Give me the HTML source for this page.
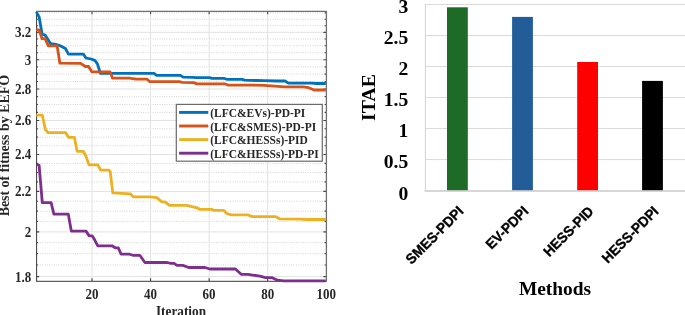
<!DOCTYPE html><html><head><meta charset="utf-8"><style>html,body{margin:0;padding:0;background:#fff;width:685px;height:315px;overflow:hidden}svg{display:block;will-change:transform}.s{font-family:"Liberation Serif",serif;font-weight:bold;fill:#000}.l{fill:#262626}.a{font-family:"Liberation Sans",sans-serif;font-weight:bold;fill:#000}</style></head><body>
<svg width="685" height="315" viewBox="0 0 685 315">
<line x1="37.4" y1="264.99" x2="326.2" y2="264.99" stroke="#d4d4d4" stroke-width="1" stroke-dasharray="1,1.35"/>
<line x1="37.4" y1="253.67" x2="326.2" y2="253.67" stroke="#d4d4d4" stroke-width="1" stroke-dasharray="1,1.35"/>
<line x1="37.4" y1="242.64" x2="326.2" y2="242.64" stroke="#d4d4d4" stroke-width="1" stroke-dasharray="1,1.35"/>
<line x1="37.4" y1="221.41" x2="326.2" y2="221.41" stroke="#d4d4d4" stroke-width="1" stroke-dasharray="1,1.35"/>
<line x1="37.4" y1="211.17" x2="326.2" y2="211.17" stroke="#d4d4d4" stroke-width="1" stroke-dasharray="1,1.35"/>
<line x1="37.4" y1="201.18" x2="326.2" y2="201.18" stroke="#d4d4d4" stroke-width="1" stroke-dasharray="1,1.35"/>
<line x1="37.4" y1="181.88" x2="326.2" y2="181.88" stroke="#d4d4d4" stroke-width="1" stroke-dasharray="1,1.35"/>
<line x1="37.4" y1="172.55" x2="326.2" y2="172.55" stroke="#d4d4d4" stroke-width="1" stroke-dasharray="1,1.35"/>
<line x1="37.4" y1="163.42" x2="326.2" y2="163.42" stroke="#d4d4d4" stroke-width="1" stroke-dasharray="1,1.35"/>
<line x1="37.4" y1="145.72" x2="326.2" y2="145.72" stroke="#d4d4d4" stroke-width="1" stroke-dasharray="1,1.35"/>
<line x1="37.4" y1="137.14" x2="326.2" y2="137.14" stroke="#d4d4d4" stroke-width="1" stroke-dasharray="1,1.35"/>
<line x1="37.4" y1="128.73" x2="326.2" y2="128.73" stroke="#d4d4d4" stroke-width="1" stroke-dasharray="1,1.35"/>
<line x1="37.4" y1="112.40" x2="326.2" y2="112.40" stroke="#d4d4d4" stroke-width="1" stroke-dasharray="1,1.35"/>
<line x1="37.4" y1="104.47" x2="326.2" y2="104.47" stroke="#d4d4d4" stroke-width="1" stroke-dasharray="1,1.35"/>
<line x1="37.4" y1="96.67" x2="326.2" y2="96.67" stroke="#d4d4d4" stroke-width="1" stroke-dasharray="1,1.35"/>
<line x1="37.4" y1="81.51" x2="326.2" y2="81.51" stroke="#d4d4d4" stroke-width="1" stroke-dasharray="1,1.35"/>
<line x1="37.4" y1="74.12" x2="326.2" y2="74.12" stroke="#d4d4d4" stroke-width="1" stroke-dasharray="1,1.35"/>
<line x1="37.4" y1="66.87" x2="326.2" y2="66.87" stroke="#d4d4d4" stroke-width="1" stroke-dasharray="1,1.35"/>
<line x1="37.4" y1="52.71" x2="326.2" y2="52.71" stroke="#d4d4d4" stroke-width="1" stroke-dasharray="1,1.35"/>
<line x1="37.4" y1="45.81" x2="326.2" y2="45.81" stroke="#d4d4d4" stroke-width="1" stroke-dasharray="1,1.35"/>
<line x1="37.4" y1="39.01" x2="326.2" y2="39.01" stroke="#d4d4d4" stroke-width="1" stroke-dasharray="1,1.35"/>
<line x1="37.4" y1="25.74" x2="326.2" y2="25.74" stroke="#d4d4d4" stroke-width="1" stroke-dasharray="1,1.35"/>
<line x1="37.4" y1="19.26" x2="326.2" y2="19.26" stroke="#d4d4d4" stroke-width="1" stroke-dasharray="1,1.35"/>
<line x1="37.4" y1="12.88" x2="326.2" y2="12.88" stroke="#d4d4d4" stroke-width="1" stroke-dasharray="1,1.35"/>
<line x1="36.4" y1="276.63" x2="326.2" y2="276.63" stroke="#e2e2e2" stroke-width="1"/>
<line x1="36.4" y1="231.89" x2="326.2" y2="231.89" stroke="#e2e2e2" stroke-width="1"/>
<line x1="36.4" y1="191.42" x2="326.2" y2="191.42" stroke="#e2e2e2" stroke-width="1"/>
<line x1="36.4" y1="154.48" x2="326.2" y2="154.48" stroke="#e2e2e2" stroke-width="1"/>
<line x1="36.4" y1="120.49" x2="326.2" y2="120.49" stroke="#e2e2e2" stroke-width="1"/>
<line x1="36.4" y1="89.02" x2="326.2" y2="89.02" stroke="#e2e2e2" stroke-width="1"/>
<line x1="36.4" y1="59.73" x2="326.2" y2="59.73" stroke="#e2e2e2" stroke-width="1"/>
<line x1="36.4" y1="32.33" x2="326.2" y2="32.33" stroke="#e2e2e2" stroke-width="1"/>
<line x1="92.02" y1="11.4" x2="92.02" y2="281.1" stroke="#e2e2e2" stroke-width="1"/>
<line x1="150.56" y1="11.4" x2="150.56" y2="281.1" stroke="#e2e2e2" stroke-width="1"/>
<line x1="209.11" y1="11.4" x2="209.11" y2="281.1" stroke="#e2e2e2" stroke-width="1"/>
<line x1="267.65" y1="11.4" x2="267.65" y2="281.1" stroke="#e2e2e2" stroke-width="1"/>
<path d="M36.4 276.63h2.8M326.2 276.63h-2.8M36.4 264.99h1.5M326.2 264.99h-1.5M36.4 253.67h1.5M326.2 253.67h-1.5M36.4 242.64h1.5M326.2 242.64h-1.5M36.4 231.89h2.8M326.2 231.89h-2.8M36.4 221.41h1.5M326.2 221.41h-1.5M36.4 211.17h1.5M326.2 211.17h-1.5M36.4 201.18h1.5M326.2 201.18h-1.5M36.4 191.42h2.8M326.2 191.42h-2.8M36.4 181.88h1.5M326.2 181.88h-1.5M36.4 172.55h1.5M326.2 172.55h-1.5M36.4 163.42h1.5M326.2 163.42h-1.5M36.4 154.48h2.8M326.2 154.48h-2.8M36.4 145.72h1.5M326.2 145.72h-1.5M36.4 137.14h1.5M326.2 137.14h-1.5M36.4 128.73h1.5M326.2 128.73h-1.5M36.4 120.49h2.8M326.2 120.49h-2.8M36.4 112.40h1.5M326.2 112.40h-1.5M36.4 104.47h1.5M326.2 104.47h-1.5M36.4 96.67h1.5M326.2 96.67h-1.5M36.4 89.02h2.8M326.2 89.02h-2.8M36.4 81.51h1.5M326.2 81.51h-1.5M36.4 74.12h1.5M326.2 74.12h-1.5M36.4 66.87h1.5M326.2 66.87h-1.5M36.4 59.73h2.8M326.2 59.73h-2.8M36.4 52.71h1.5M326.2 52.71h-1.5M36.4 45.81h1.5M326.2 45.81h-1.5M36.4 39.01h1.5M326.2 39.01h-1.5M36.4 32.33h2.8M326.2 32.33h-2.8M36.4 25.74h1.5M326.2 25.74h-1.5M36.4 19.26h1.5M326.2 19.26h-1.5M36.4 12.88h1.5M326.2 12.88h-1.5M92.02 281.1v-2.8M92.02 11.4v2.8M150.56 281.1v-2.8M150.56 11.4v2.8M209.11 281.1v-2.8M209.11 11.4v2.8M267.65 281.1v-2.8M267.65 11.4v2.8" stroke="#444" stroke-width="1.1" fill="none"/>
<path d="M36.6 281.3V11.3" stroke="#3a3a3a" stroke-width="1" fill="none"/>
<path d="M36.1 281.3H326.4" stroke="#3a3a3a" stroke-width="1" fill="none"/>
<path d="M36.1 11.3H327" stroke="#707070" stroke-width="1.3" fill="none"/>
<path d="M326.4 11.3V281.8" stroke="#707070" stroke-width="1.3" fill="none"/>
<polyline points="36.3,11.8 39.2,17.2 42.1,34.2 45.1,35.1 50.5,43.6 56.5,44.5 61.6,46.4 65.4,48.5 68.5,54.1 83.3,54.1 86.0,58.0 91.0,59.0 94.8,60.4 97.3,63.6 100.4,73.3 154.0,73.4 156.6,75.3 180.3,75.3 183.2,77.2 193.6,77.4 195.5,77.7 209.5,77.6 212.0,78.3 223.8,78.3 226.7,79.3 241.9,79.3 244.8,80.2 256.0,80.5 264.0,80.7 276.9,81.0 285.0,81.0 288.4,83.1 311.9,83.1 316.3,83.5 325.8,83.5" fill="none" stroke="#0072BD" stroke-width="2.8" stroke-linejoin="round" stroke-linecap="butt"/>
<polyline points="36.3,29.6 39.2,30.2 42.1,38.7 45.1,38.7 48.3,45.8 57.1,45.8 59.9,63.2 80.6,63.3 85.4,66.5 88.6,66.5 91.8,71.8 110.0,71.9 112.6,78.1 129.5,78.2 132.5,78.6 135.5,79.0 138.0,79.2 147.1,79.2 149.8,81.7 179.3,81.7 182.1,82.4 193.6,82.6 196.9,83.9 224.8,83.8 228.3,85.2 253.3,85.2 264.0,85.3 284.6,86.8 303.2,86.8 308.7,87.7 314.1,90.0 325.8,90.0" fill="none" stroke="#D95319" stroke-width="2.8" stroke-linejoin="round" stroke-linecap="butt"/>
<polyline points="36.3,115.2 42.3,115.2 45.4,129.6 48.0,132.7 65.7,132.7 68.5,137.3 74.4,137.4 77.1,151.3 83.3,151.3 85.9,156.0 89.0,164.9 97.8,164.9 100.6,170.2 109.0,170.2 110.2,171.4 112.8,192.9 130.3,193.8 133.3,196.9 150.4,196.9 156.8,197.6 161.9,201.8 165.0,201.8 169.5,205.4 186.7,205.4 197.1,207.8 200.0,209.4 211.4,209.4 214.3,210.4 223.8,210.4 226.7,213.5 231.4,214.8 247.5,214.8 252.3,216.6 275.9,216.6 279.4,218.8 300.2,219.2 307.1,219.5 325.8,219.5" fill="none" stroke="#EDB120" stroke-width="2.8" stroke-linejoin="round" stroke-linecap="butt"/>
<polyline points="36.3,164.1 39.1,165.2 42.3,202.6 51.1,202.6 53.9,214.2 68.3,214.2 71.3,231.0 86.0,231.1 89.2,235.9 92.3,235.9 94.9,240.3 97.8,245.8 112.0,245.8 115.2,247.8 118.3,247.9 121.1,254.2 129.6,254.2 132.8,255.3 139.8,255.3 144.9,262.5 167.1,262.5 170.9,263.4 174.1,263.4 177.0,265.4 182.8,265.4 188.7,267.5 205.0,267.5 209.7,269.0 235.4,269.0 241.2,274.3 248.0,274.4 259.9,276.1 265.5,277.6 272.3,277.7 277.3,280.2 283.5,280.8 325.8,280.8" fill="none" stroke="#7E2F8E" stroke-width="2.8" stroke-linejoin="round" stroke-linecap="butt"/>
<text class="s l" transform="translate(31.2,281.63) scale(1,1.1)" font-size="13" text-anchor="end">1.8</text>
<text class="s l" transform="translate(31.2,236.89) scale(1,1.1)" font-size="13" text-anchor="end">2</text>
<text class="s l" transform="translate(31.2,196.42) scale(1,1.1)" font-size="13" text-anchor="end">2.2</text>
<text class="s l" transform="translate(31.2,159.48) scale(1,1.1)" font-size="13" text-anchor="end">2.4</text>
<text class="s l" transform="translate(31.2,125.49) scale(1,1.1)" font-size="13" text-anchor="end">2.6</text>
<text class="s l" transform="translate(31.2,94.02) scale(1,1.1)" font-size="13" text-anchor="end">2.8</text>
<text class="s l" transform="translate(31.2,64.73) scale(1,1.1)" font-size="13" text-anchor="end">3</text>
<text class="s l" transform="translate(31.2,37.33) scale(1,1.1)" font-size="13" text-anchor="end">3.2</text>
<text class="s l" transform="translate(92.02,298.6) scale(1,1.1)" font-size="13" text-anchor="middle">20</text>
<text class="s l" transform="translate(150.56,298.6) scale(1,1.1)" font-size="13" text-anchor="middle">40</text>
<text class="s l" transform="translate(209.11,298.6) scale(1,1.1)" font-size="13" text-anchor="middle">60</text>
<text class="s l" transform="translate(267.65,298.6) scale(1,1.1)" font-size="13" text-anchor="middle">80</text>
<text class="s l" transform="translate(326.20,298.6) scale(1,1.1)" font-size="13" text-anchor="middle">100</text>
<text class="s l" transform="translate(181,316.3) scale(1,1.1)" font-size="13.3" text-anchor="middle">Iteration</text>
<text class="s l" transform="translate(9.1,145.7) scale(1.1,1.07) rotate(-90)" font-size="13" text-anchor="middle">Best of fitness by EEFO</text>
<rect x="176.3" y="104.4" width="146" height="56.8" fill="#fff" stroke="#6a6a6a" stroke-width="1.2"/>
<line x1="179.1" y1="112.4" x2="208.3" y2="112.4" stroke="#0072BD" stroke-width="2.9"/>
<text class="s l" transform="translate(210.2,117.2) scale(1,1.1)" font-size="11.5">(LFC&amp;EVs)-PD-PI</text>
<line x1="179.1" y1="126.0" x2="208.3" y2="126.0" stroke="#D95319" stroke-width="2.9"/>
<text class="s l" transform="translate(210.2,130.8) scale(1,1.1)" font-size="11.5">(LFC&amp;SMES)-PD-PI</text>
<line x1="179.1" y1="139.6" x2="208.3" y2="139.6" stroke="#EDB120" stroke-width="2.9"/>
<text class="s l" transform="translate(210.2,144.4) scale(1,1.1)" font-size="11.5">(LFC&amp;HESSs)-PID</text>
<line x1="179.1" y1="153.2" x2="208.3" y2="153.2" stroke="#7E2F8E" stroke-width="2.9"/>
<text class="s l" transform="translate(210.2,158.0) scale(1,1.1)" font-size="11.5">(LFC&amp;HESSs)-PD-PI</text>
<line x1="425.0" y1="159.58" x2="685" y2="159.58" stroke="#d9d9d9" stroke-width="1"/>
<line x1="425.0" y1="128.57" x2="685" y2="128.57" stroke="#d9d9d9" stroke-width="1"/>
<line x1="425.0" y1="97.55" x2="685" y2="97.55" stroke="#d9d9d9" stroke-width="1"/>
<line x1="425.0" y1="66.54" x2="685" y2="66.54" stroke="#d9d9d9" stroke-width="1"/>
<line x1="425.0" y1="35.53" x2="685" y2="35.53" stroke="#d9d9d9" stroke-width="1"/>
<line x1="425.0" y1="4.51" x2="685" y2="4.51" stroke="#d9d9d9" stroke-width="1"/>
<line x1="425.4" y1="4.01" x2="425.4" y2="190.60" stroke="#d2d2d2" stroke-width="1"/>
<rect x="447.0" y="7.3" width="20.8" height="183.3" fill="#1D6B26"/>
<rect x="512.1" y="16.9" width="20.8" height="173.7" fill="#225D9A"/>
<rect x="577.2" y="62.0" width="20.8" height="128.6" fill="#FF0000"/>
<rect x="642.1" y="80.9" width="20.8" height="109.7" fill="#000000"/>
<line x1="424.5" y1="190.90" x2="685" y2="190.90" stroke="#c9c9c9" stroke-width="1.5"/>
<text class="s" x="408.2" y="199.50" font-size="19.6" text-anchor="end">0</text>
<text class="s" x="408.2" y="168.48" font-size="19.6" text-anchor="end">0.5</text>
<text class="s" x="408.2" y="137.47" font-size="19.6" text-anchor="end">1</text>
<text class="s" x="408.2" y="106.45" font-size="19.6" text-anchor="end">1.5</text>
<text class="s" x="408.2" y="75.44" font-size="19.6" text-anchor="end">2</text>
<text class="s" x="408.2" y="44.43" font-size="19.6" text-anchor="end">2.5</text>
<text class="s" x="408.2" y="13.41" font-size="19.6" text-anchor="end">3</text>
<text class="a" transform="translate(464.4,212.2) rotate(-45) scale(0.95,1)" font-size="14.3" stroke="#000" stroke-width="0.35" text-anchor="end">SMES-PDPI</text>
<text class="a" transform="translate(529.4,212.2) rotate(-45) scale(0.95,1)" font-size="14.3" stroke="#000" stroke-width="0.35" text-anchor="end">EV-PDPI</text>
<text class="a" transform="translate(594.5,212.2) rotate(-45) scale(0.95,1)" font-size="14.3" stroke="#000" stroke-width="0.35" text-anchor="end">HESS-PID</text>
<text class="a" transform="translate(659.5,212.2) rotate(-45) scale(0.95,1)" font-size="14.3" stroke="#000" stroke-width="0.35" text-anchor="end">HESS-PDPI</text>
<text class="s" x="555" y="294.8" font-size="19.4" text-anchor="middle">Methods</text>
<text class="s" transform="translate(375.2,97.6) rotate(-90)" font-size="19.8" text-anchor="middle">ITAE</text>
</svg></body></html>
